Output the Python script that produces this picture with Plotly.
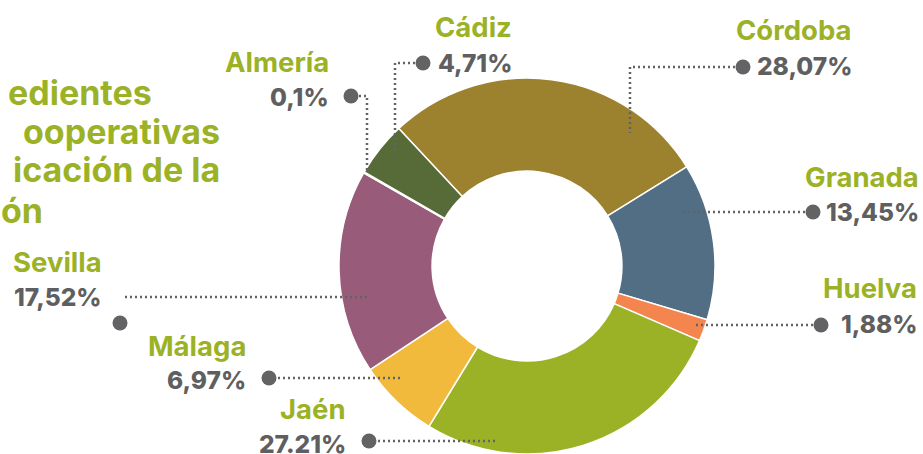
import plotly.graph_objects as go

provincias = ["Córdoba", "Granada", "Huelva", "Jaén", "Málaga", "Sevilla", "Almería", "Cádiz"]
porcentajes = [28.07, 13.45, 1.88, 27.21, 6.97, 17.52, 0.1, 4.71]
etiquetas_pct = ["28,07%", "13,45%", "1,88%", "27.21%", "6,97%", "17,52%", "0,1%", "4,71%"]
colores = ["#9C812F", "#526E84", "#F4854F", "#9BB227", "#F2BA3C", "#985C7A", "#E8185F", "#566B37"]
titulo_lineas = ["edientes", "ooperativas", "icación de la", "ón"]

W, H = 923, 454
GREEN = "#9BB227"
GRAY = "#5F5F61"
FONT = "Inter"

# layout (pixel coordinates): label pos, pct pos, anchor, dot, leader path
layout_cfg = {
    "Córdoba": dict(lab=(854, 30), pct=(854, 66), anchor="right", dot=(743, 67),
                    path=[(735, 67), (630, 67), (630, 133)]),
    "Granada": dict(lab=(921, 177), pct=(921, 212), anchor="right", dot=(813, 212),
                    path=[(805, 212), (683, 212)]),
    "Huelva": dict(lab=(919, 288), pct=(919, 324), anchor="right", dot=(821, 325),
                   path=[(813, 325), (693, 325)]),
    "Jaén": dict(lab=(348, 409), pct=(348, 444), anchor="right", dot=(369, 441),
                 path=[(378, 441), (498, 441)]),
    "Málaga": dict(lab=(248, 346), pct=(248, 380), anchor="right", dot=(269, 378),
                   path=[(278, 378), (400, 378)]),
    "Sevilla": dict(lab=(104, 262), pct=(104, 297), anchor="right", dot=(120, 323),
                    path=[(125, 297), (367, 297)]),
    "Almería": dict(lab=(331, 62), pct=(331, 97), anchor="right", dot=(351, 96),
                    path=[(359, 96), (367, 96), (367, 170)]),
    "Cádiz": dict(lab=(514, 27), pct=(514, 63), anchor="right", dot=(423, 63),
                  path=[(415, 63), (395, 63), (395, 152)]),
}

cx, cy, r = 527, 266, 188

fig = go.Figure()
fig.add_trace(go.Pie(
    labels=provincias, values=porcentajes, sort=False, direction="clockwise",
    rotation=-43, hole=0.505, textinfo="none", hoverinfo="label+percent",
    marker=dict(colors=colores, line=dict(color="white", width=1.5)),
    domain=dict(x=[(cx - r) / W, (cx + r) / W], y=[(H - cy - r) / H, (H - cy + r) / H]),
    showlegend=False,
))

annotations = []
shapes = []
dots_x, dots_y = [], []
for name, pct_txt in zip(provincias, etiquetas_pct):
    c = layout_cfg[name]
    annotations.append(dict(x=c["lab"][0], y=c["lab"][1], xref="x", yref="y", text=name,
                            showarrow=False, xanchor=c["anchor"], yanchor="middle",
                            font=dict(family=FONT, size=27.5, color=GREEN, weight=700)))
    annotations.append(dict(x=c["pct"][0], y=c["pct"][1], xref="x", yref="y", text=pct_txt,
                            showarrow=False, xanchor=c["anchor"], yanchor="middle",
                            font=dict(family=FONT, size=24.5, color=GRAY, weight=800)))
    dots_x.append(c["dot"][0]); dots_y.append(c["dot"][1])
    p = c["path"]
    d = "M " + " L ".join(f"{x},{y}" for x, y in p)
    shapes.append(dict(type="path", path=d, xref="x", yref="y",
                       line=dict(color="#636365", width=2.5, dash="2px,3px")))

title_pos = [(154, 92), (222, 131), (222, 169), (45, 210)]
for t, (x, y) in zip(titulo_lineas, title_pos):
    annotations.append(dict(x=x, y=y, xref="x", yref="y", text=t, showarrow=False,
                            xanchor="right", yanchor="middle",
                            font=dict(family=FONT, size=34, color=GREEN, weight=700)))

fig.add_trace(go.Scatter(x=dots_x, y=dots_y, mode="markers",
                         marker=dict(size=15, color="#636365"), hoverinfo="skip",
                         showlegend=False))

fig.update_layout(
    width=W, height=H, margin=dict(l=0, r=0, t=0, b=0),
    paper_bgcolor="white", plot_bgcolor="rgba(0,0,0,0)",
    xaxis=dict(range=[0, W], visible=False, fixedrange=True),
    yaxis=dict(range=[H, 0], visible=False, fixedrange=True),
    annotations=annotations, shapes=shapes,
)
fig.write_html("out.html", config={"displayModeBar": False},
               post_script="document.body.style.margin='0';document.body.style.overflow='hidden';")
